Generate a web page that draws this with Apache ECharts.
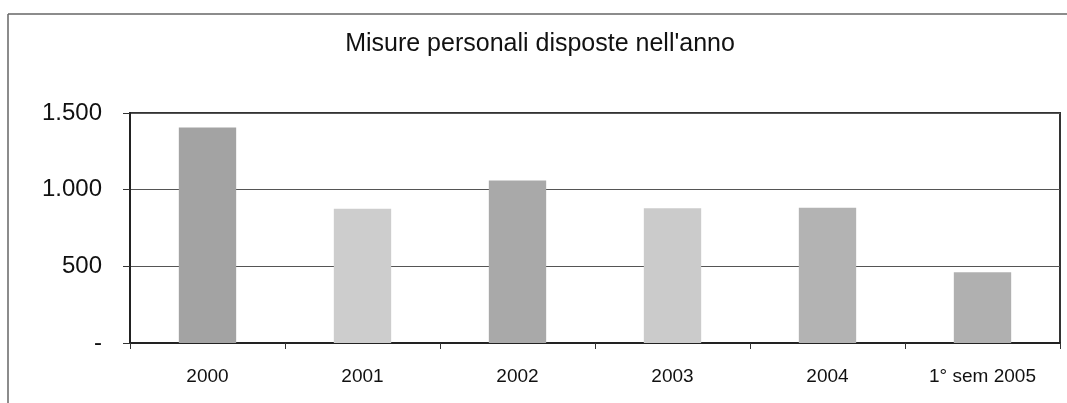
<!DOCTYPE html>
<html>
<head>
<meta charset="utf-8">
<script src="https://cdn.jsdelivr.net/npm/echarts@6/dist/echarts.min.js"></script>
<style>
  html, body { margin: 0; padding: 0; background: #fff; }
  #chart { width: 1067px; height: 403px; }
</style>
</head>
<body>
<div id="chart"></div>
<script>
// dati
var categories = ['2000', '2001', '2002', '2003', '2004', '1° sem 2005'];
var misure = [1405, 875, 1060, 878, 882, 462];
var tickValues = [0, 500, 1000, 1500];
var tickLabels = ['-', '500', '1.000', '1.500'];

// toni di grigio delle barre (stile)
var barShades = ['#a3a3a3', '#cdcdcd', '#a9a9a9', '#cbcbcb', '#b3b3b3', '#b0b0b0'];

var chart = echarts.init(document.getElementById('chart'));

var option = {
  animation: false,
  title: {
    text: "Misure personali disposte nell'anno",
    left: 540,
    textAlign: 'center',
    top: 32,
    padding: 0,
    textStyle: {
      fontFamily: 'Liberation Sans, Arial',
      fontSize: 25,
      fontWeight: 'normal',
      color: '#111'
    }
  },
  graphic: [
    { type: 'line', shape: { x1: 8, y1: 14, x2: 8, y2: 403 }, style: { stroke: '#666', lineWidth: 1.5 } },
    { type: 'line', shape: { x1: 8, y1: 14, x2: 1067, y2: 14 }, style: { stroke: '#666', lineWidth: 1.5 } }
  ],
  grid: {
    left: 130,
    right: 7,
    top: 113,
    bottom: 60,
    show: true,
    borderColor: '#333',
    borderWidth: 2
  },
  xAxis: {
    type: 'category',
    data: categories,
    axisLine: { lineStyle: { color: '#222', width: 2 } },
    axisTick: { show: true, length: 6, lineStyle: { color: '#333' } },
    axisLabel: {
      margin: 24,
      fontFamily: 'Liberation Sans, Arial',
      fontSize: 19,
      color: '#111'
    }
  },
  yAxis: {
    type: 'value',
    min: 0,
    max: 1500,
    interval: 500,
    axisLine: { show: true, lineStyle: { color: '#222', width: 2 } },
    axisTick: { show: true, length: 7, lineStyle: { color: '#333' } },
    splitLine: { lineStyle: { color: '#555', width: 1 } },
    axisLabel: {
      margin: 28,
      fontFamily: 'Liberation Sans, Arial',
      fontSize: 24,
      color: '#111',
      formatter: function (v) {
        var i = tickValues.indexOf(v);
        return i >= 0 ? tickLabels[i] : '';
      }
    }
  },
  series: [{
    type: 'bar',
    barWidth: '37%',
    data: misure.map(function (v, i) {
      return { value: v, itemStyle: { color: barShades[i] } };
    })
  }]
};

chart.setOption(option);
</script>
</body>
</html>
